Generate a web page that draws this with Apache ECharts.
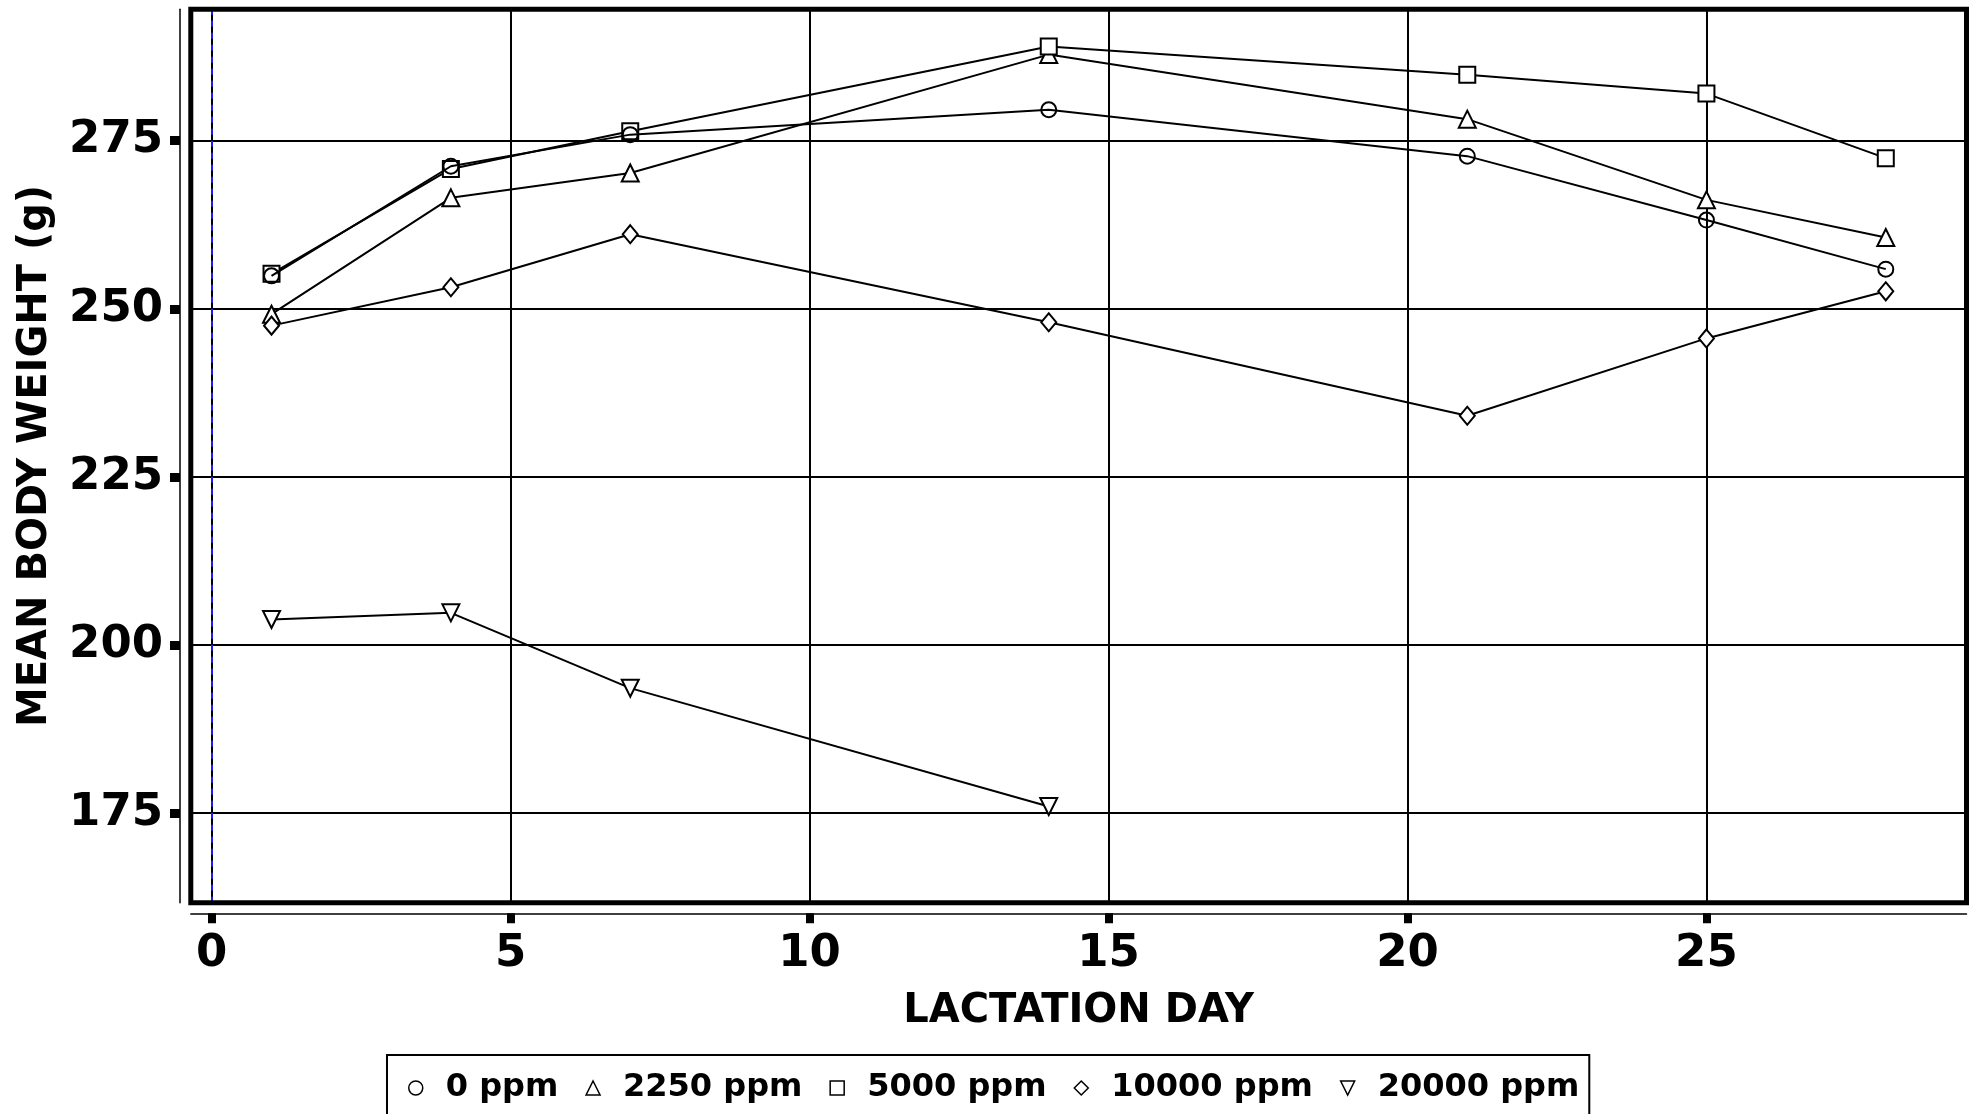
<!DOCTYPE html>
<html><head><meta charset="utf-8">
<script src="https://cdn.jsdelivr.net/npm/echarts@6/dist/echarts.min.js"></script>
<style>html,body{margin:0;padding:0;background:#fff}#c{width:1978px;height:1114px}</style>
</head><body><div id="c"></div>
<script>
const days = [1, 4, 7, 14, 21, 25, 28];
const days20000 = [1, 4, 7, 14];
const ppm0 = [254.9, 271.2, 275.9, 279.6, 272.7, 263.2, 255.9];
const ppm2250 = [249.2, 266.5, 270.2, 287.8, 278.2, 266.2, 260.6];
const ppm5000 = [255.2, 270.8, 276.4, 289.0, 284.8, 282.0, 272.4];
const ppm10000 = [247.5, 253.2, 261.1, 248.0, 234.1, 245.6, 252.6];
const ppm20000 = [203.8, 204.8, 193.6, 176.0];
const xTicks = [0, 5, 10, 15, 20, 25];
const yTicks = [175, 200, 225, 250, 275];
const seriesNames = ['0 ppm', '2250 ppm', '5000 ppm', '10000 ppm', '20000 ppm'];
const xTitle = 'LACTATION DAY';
const yTitle = 'MEAN BODY WEIGHT (g)';

const FONT = 'DejaVu Sans';
const invTri = 'path://M0,0L10,0L5,10Z';
const symbols = ['circle', 'triangle', 'rect', 'diamond', 'triangle'];
const rotates = [0, 0, 0, 0, 180];
const sizes = [15, 17, 16, [15, 18], 17];
const legendIcons = ['circle', 'triangle', 'rect', 'diamond', invTri];
const values = [ppm0, ppm2250, ppm5000, ppm10000, ppm20000];
const xs = [days, days, days, days, days20000];
const zs = [5, 3, 3, 3, 3];

const series = values.map((vals, i) => ({
  name: seriesNames[i],
  type: 'line',
  data: vals.map((v, j) => [xs[i][j], v]),
  symbol: symbols[i],
  symbolRotate: rotates[i],
  symbolSize: sizes[i],
  showAllSymbol: true,
  lineStyle: { color: '#000', width: 2 },
  itemStyle: { color: i === 0 ? 'rgba(255,255,255,0)' : '#fff', borderColor: '#000', borderWidth: 2 },
  emphasis: { disabled: true },
  z: zs[i],
  markLine: i === 0 ? {
    silent: true, symbol: 'none', label: { show: false },
    lineStyle: { color: '#1a1aff', type: [6, 6], width: 2 },
    data: [{ xAxis: 0 }], z: 2
  } : undefined
}));

const chart = echarts.init(document.getElementById('c'), null, { renderer: 'canvas' });
chart.setOption({
  animation: false,
  backgroundColor: '#fff',
  grid: { left: 190.8, right: 11.5, top: 9.2, bottom: 211.3, show: true, borderColor: '#000', borderWidth: 5, backgroundColor: 'transparent', z: 5 },
  xAxis: {
    type: 'value', min: -0.35, max: 29.35, offset: 10.6,
    name: xTitle, nameLocation: 'middle', nameGap: 78,
    nameTextStyle: { fontFamily: FONT, fontWeight: 'bold', fontSize: 40, color: '#000' },
    axisLine: { show: true, onZero: false, lineStyle: { color: '#000', width: 1.5 } },
    axisTick: { show: true, customValues: xTicks, length: 10, lineStyle: { color: '#000', width: 8 } },
    axisLabel: { customValues: xTicks, margin: 19, fontFamily: FONT, fontWeight: 'bold', fontSize: 45, color: '#000' },
    splitLine: { show: true, lineStyle: { color: '#000', width: 2 } }
  },
  yAxis: {
    type: 'value', min: 161.7, max: 294.55, offset: 10.8,
    name: yTitle, nameLocation: 'middle', nameGap: 124,
    nameTextStyle: { fontFamily: FONT, fontWeight: 'bold', fontSize: 40, color: '#000' },
    axisLine: { show: true, onZero: false, lineStyle: { color: '#000', width: 1.5 } },
    axisTick: { show: true, customValues: yTicks, length: 10, lineStyle: { color: '#000', width: 9 } },
    axisLabel: { customValues: yTicks, margin: 17, fontFamily: FONT, fontWeight: 'bold', fontSize: 45, color: '#000' },
    splitLine: { show: true, lineStyle: { color: '#000', width: 2 } }
  },
  legend: {
    left: 387, top: 1055,
    orient: 'horizontal',
    padding: [17, 10, 30, 21],
    borderColor: '#000', borderWidth: 2,
    itemWidth: 14, itemHeight: 14, itemGap: 27,
    textStyle: { fontFamily: FONT, fontWeight: 'bold', fontSize: 32, color: '#000', padding: [0, 0, 0, 18] },
    selectedMode: false,
    data: seriesNames.map((n, i) => ({ name: n, icon: legendIcons[i], itemStyle: { color: '#fff', borderColor: '#000', borderWidth: 1.5 } }))
  },
  series: series
});
</script></body></html>
